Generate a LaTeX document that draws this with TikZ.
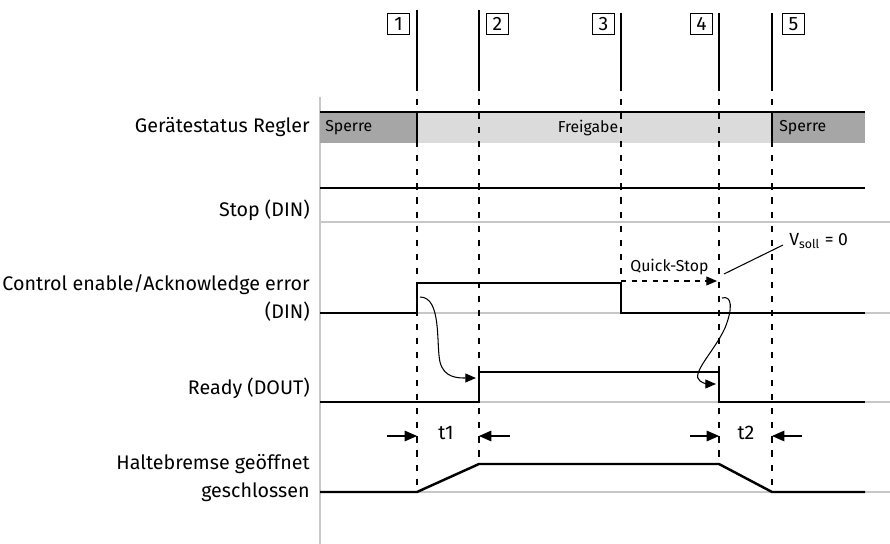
\documentclass[tikz,border=0pt]{standalone}
\usepackage{fontspec}
\setmainfont{Fira Sans}
\usetikzlibrary{arrows.meta}

\begin{document}
\begin{tikzpicture}[x=0.02cm,y=-0.02cm,
  signal/.style={line width=1.4pt},
  baseline/.style={draw=black!22,line width=0.9pt},
  thin/.style={line width=0.6pt},
  dashline/.style={line width=0.6pt,dash pattern=on 3.5pt off 4.5pt},
  numbox/.style={draw,line width=0.5pt,inner sep=0pt,minimum width=0.44cm,minimum height=0.42cm,font=\fontsize{11}{12}\selectfont},
  lbl/.style={anchor=east,align=right,inner sep=0pt,font=\fontsize{11.2}{16}\selectfont},
  small/.style={inner sep=0pt,font=\fontsize{9}{10}\selectfont},
  tarrow/.style={thin,-{Triangle[length=7pt,width=6pt]}}]
\useasboundingbox (0,0) rectangle (890,544);
% axis and base lines
\draw[baseline] (320,97) -- (320,544);
\foreach \y in {222,313,402,492}
  \draw[baseline] (320,\y) -- (890,\y);
% status bar
\fill[black!35] (320,112) rectangle (417,143);
\fill[black!14] (417,112) rectangle (772,143);
\fill[black!35] (772,112) rectangle (865,143);
\draw[thin] (320,112) -- (865,112);
\draw[thin] (417,112) -- (417,143);
\draw[thin] (772,112) -- (772,143);
\node[small,anchor=west] (sperreA) at (325,128) {Sperre};
\node[small] (freigabe) at (588,128) {Freigabe};
\node[small,anchor=west] (sperreB) at (779,128) {Sperre};
% time marks
\draw[thin] (417,10) -- (417,85);  \draw[dashline] (417,85) -- (417,492);
\draw[thin] (479,10) -- (479,85);  \draw[dashline] (479,85) -- (479,464);
\draw[thin] (621,13) -- (621,85);  \draw[dashline] (621,85) -- (621,283);
\draw[thin] (719,13) -- (719,85);  \draw[dashline] (719,85) -- (719,464);
\draw[thin] (772,13) -- (772,85);  \draw[dashline] (772,85) -- (772,492);
\node[numbox,anchor=north east] (m1) at (410,13) {1};
\node[numbox,anchor=north west] (m2) at (486,13) {2};
\node[numbox,anchor=north east] (m3) at (615,13) {3};
\node[numbox,anchor=north east] (m4) at (713,13) {4};
\node[numbox,anchor=north west] (m5) at (782,13) {5};
% labels
\node[lbl] (status) at (310,127) {Gerätestatus Regler};
\node[lbl] (stop) at (310,210) {Stop (DIN)};
\node[lbl] (enable) at (310,298) {Control enable/Acknowledge error\\(DIN)};
\node[lbl] (ready) at (310,388) {Ready (DOUT)};
\node[lbl] (brake) at (310,478) {Haltebremse geöffnet\\geschlossen};
% signals
\draw[signal] (320,188) -- (865,188);
\draw[signal] (320,313) -- (417,313) -- (417,283) -- (621,283) -- (621,313) -- (865,313);
\draw[signal] (320,402) -- (479,402) -- (479,372) -- (719,372) -- (719,402) -- (865,402);
\draw[signal] (320,492) -- (417,492) -- (479,464) -- (719,464) -- (772,492) -- (865,492);
% quick stop
\coordinate (qsA) at (621,281);
\coordinate (qsB) at (717,281);
\draw[thin,dashed,-{Triangle[length=6pt,width=5pt]}] (qsA) -- (qsB);
\node[small,anchor=south west] (quick) at (630,275) {Quick-Stop};
\node[small,anchor=west,font=\fontsize{10}{11}\selectfont] (vsoll) at (789,241) {V\textsubscript{soll} = 0};
\coordinate (vA) at (724,274);
\coordinate (vB) at (783,245);
\draw[thin] (vA) -- (vB);
% causal arrows
\coordinate (e1) at (420,297);
\coordinate (r1) at (476,378);
\draw[thin,-{Triangle[length=6pt,width=5pt]}] (e1) .. controls (442,297) and (436,345) .. (440,362)
  .. controls (444,378) and (458,378) .. (r1);
\coordinate (e2) at (722,298);
\coordinate (r2) at (716,384);
\draw[thin,-{Triangle[length=6pt,width=5pt]}] (e2) .. controls (732,295) and (733,308) .. (725,328)
  .. controls (714,352) and (690,374) .. (700,381) .. controls (704,384) and (709,384) .. (r2);
% delay times
\coordinate (t1a) at (387,436);
\coordinate (t1b) at (510,436);
\coordinate (t2a) at (690,436);
\coordinate (t2b) at (802,436);
\draw[tarrow] (t1a) -- (417,436);
\draw[tarrow] (t1b) -- (479,436);
\draw[tarrow] (t2a) -- (719,436);
\draw[tarrow] (t2b) -- (772,436);
\node[inner sep=0pt,font=\fontsize{11.2}{12}\selectfont] (t1) at (446,433) {t1};
\node[inner sep=0pt,font=\fontsize{11.2}{12}\selectfont] (t2) at (746,433) {t2};
\end{tikzpicture}
\end{document}
